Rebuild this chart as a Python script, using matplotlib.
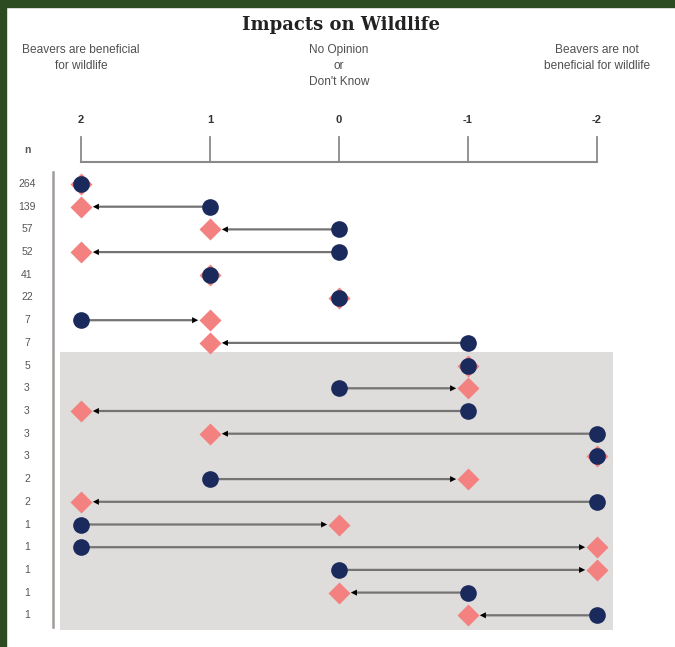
import matplotlib.pyplot as plt
from matplotlib.patches import Rectangle

# data: n respondents, opinion before (circle) and after (diamond)
n_vals = [264, 139, 57, 52, 41, 22, 7, 7, 5, 3, 3, 3, 3, 2, 2, 1, 1, 1, 1, 1]
before = [2, 1, 0, 0, 1, 0, 2, -1, -1, 0, -1, -2, -2, 1, -2, 2, 2, 0, -1, -2]
after = [2, 2, 1, 2, 1, 0, 1, 1, -1, -1, 2, 1, -2, -1, 2, 0, -2, -2, 0, -1]
scale_ticks = [2, 1, 0, -1, -2]
headers = ["Beavers are beneficial\nfor wildlife", "No Opinion\nor\nDon't Know",
           "Beavers are not\nbeneficial for wildlife"]
header_pos = [2, 0, -2]

W, H = 675, 647
navy = "#1b2a5c"
pink = "#f2817f"
green = "#2d4b21"

fig = plt.figure(figsize=(W / 100, H / 100), dpi=100)
fig.patch.set_facecolor("white")
ax = fig.add_axes([0, 0, 1, 1])
ax.set_axis_off()

# map: value -> px x = 339 - 129*v ; row i -> px y = 184 + 22.7*i
ax.set_xlim(339 / 129, (339 - W) / 129)
ax.set_ylim((H - 184) / 22.7, -184 / 22.7)


def row(px):
    return (px - 184) / 22.7


def col(px):
    return (339 - px) / 129


# green frame (top and left)
fig.patches.append(Rectangle((0, 1 - 7 / H), 1, 7 / H, transform=fig.transFigure,
                             color=green, zorder=10))
fig.patches.append(Rectangle((0, 0), 6 / W, 1, transform=fig.transFigure,
                             color=green, zorder=10))

# title
fig.text(341 / W, 1 - 25 / H, "Impacts on Wildlife", ha="center", va="center",
         fontsize=13, fontweight="bold", family="DejaVu Serif", color="#222222")

# headers
for txt, v in zip(headers, header_pos):
    ax.text(v, row(44), txt, ha="center", va="top", fontsize=8.6,
            family="Liberation Sans", color="#505050", linespacing=1.45)

# scale axis
ax.plot([scale_ticks[0], scale_ticks[-1]], [row(162), row(162)], color="#8a8a8a", lw=1.5)
for v in scale_ticks:
    ax.plot([v, v], [row(137), row(162)], color="#8a8a8a", lw=1.3)
    ax.text(v, row(120), str(v), ha="center", va="center", fontsize=8,
            family="Liberation Sans", fontweight="bold", color="#333333")

# n column
ax.text(col(27), row(150), "n", ha="center", va="center", fontsize=7.5,
        family="Liberation Sans", fontweight="bold", color="#555555")
ax.plot([col(53), col(53)], [row(172), row(627)], color="#a09c9a", lw=1.8)

# shaded block
ax.add_patch(Rectangle((col(60), row(352)), col(613) - col(60), row(630) - row(352),
                       facecolor="#dedddc", edgecolor="none", zorder=0))

for i, (n, b, a) in enumerate(zip(n_vals, before, after)):
    ax.text(col(27), i, str(n), ha="center", va="center", fontsize=7.5,
            family="Liberation Sans", color="#555555")
    if b != a:
        # gray shaft, black head
        ax.annotate("", xy=(a, i), xytext=(b, i),
                    arrowprops=dict(arrowstyle="-", color="#737373", lw=1.6,
                                    shrinkA=0, shrinkB=11),
                    zorder=2)
        ax.annotate("", xy=(a, i), xytext=(b, i),
                    arrowprops=dict(arrowstyle="-|>", fc="black", ec="none", lw=0,
                                    shrinkA=0, shrinkB=8.5, mutation_scale=11),
                    zorder=2)
    ax.plot(a, i, marker="D", ms=11.5, color=pink, mec="none", zorder=3)
    ax.plot(b, i, marker="o", ms=12, color=navy, mec="none", zorder=4)

fig.savefig("out.png", dpi=100)
